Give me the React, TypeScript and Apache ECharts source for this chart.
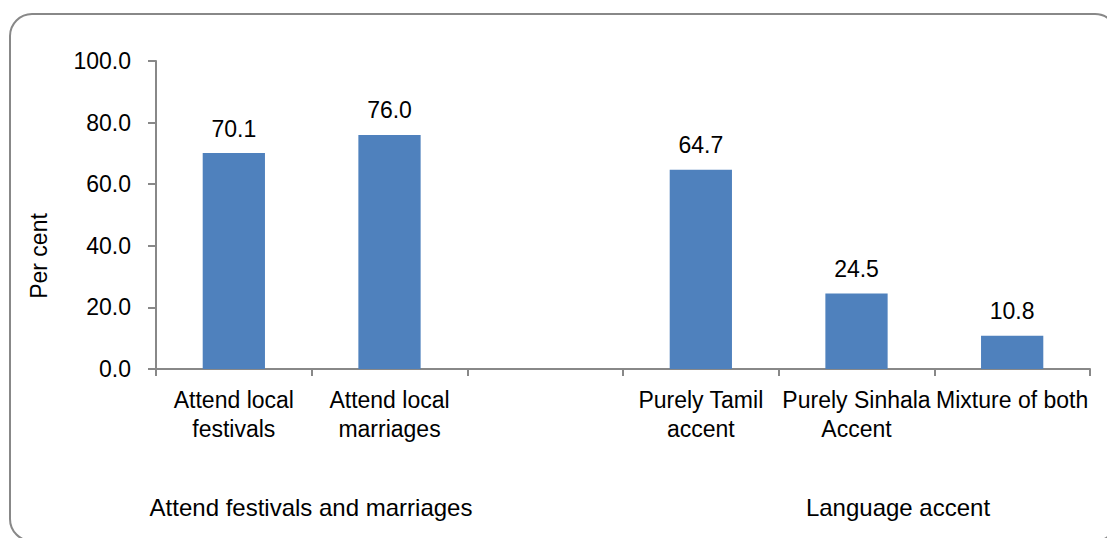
import React, { useEffect, useRef } from "react";
import * as echarts from "echarts";

const categories = [
  "Attend local\nfestivals",
  "Attend local\nmarriages",
  "",
  "Purely Tamil\naccent",
  "Purely Sinhala\nAccent",
  "Mixture of both",
];
const values: (number | null)[] = [70.1, 76.0, null, 64.7, 24.5, 10.8];
const groupLabels = ["Attend festivals and marriages", "Language accent"];
const yAxisName = "Per cent";

const FONT = "'Liberation Sans', Arial, sans-serif";

export default function App() {
  const ref = useRef<HTMLDivElement>(null);
  useEffect(() => {
    if (!ref.current) return;
    const chart = echarts.init(ref.current, undefined, { renderer: "svg" });
    chart.setOption({
      animation: false,
      textStyle: { fontFamily: FONT },
      grid: { left: 156, top: 61, right: 17, bottom: 169, containLabel: false },
      xAxis: {
        type: "category",
        data: categories,
        boundaryGap: true,
        axisLine: { lineStyle: { color: "#888888", width: 2 } },
        axisTick: { show: true, length: 7, alignWithLabel: false, lineStyle: { color: "#888888", width: 2 } },
        axisLabel: {
          interval: 0,
          color: "#000",
          fontSize: 23,
          lineHeight: 29,
          margin: 16,
          fontFamily: FONT,
        },
      },
      yAxis: {
        type: "value",
        min: 0,
        max: 100,
        interval: 20,
        splitLine: { show: false },
        axisLine: { show: true, lineStyle: { color: "#888888", width: 2 } },
        axisTick: { show: true, length: 8, lineStyle: { color: "#888888", width: 2 } },
        axisLabel: {
          color: "#000",
          fontSize: 23,
          margin: 25,
          fontFamily: FONT,
          formatter: (v: number) => v.toFixed(1),
        },
      },
      series: [
        {
          type: "bar",
          data: values,
          barWidth: "40%",
          itemStyle: { color: "#4F81BD" },
          label: {
            show: true,
            position: "top",
            distance: 13,
            color: "#000",
            fontSize: 23,
            fontFamily: FONT,
            formatter: (p: any) => (p.value == null ? "" : Number(p.value).toFixed(1)),
          },
        },
      ],
      graphic: [
        {
          type: "rect",
          x: 10,
          y: 14,
          shape: { width: 1107, height: 527, r: 22 },
          style: { fill: "none", stroke: "#888888", lineWidth: 2 },
          silent: true,
          z: -1,
        },
        {
          type: "text",
          x: 39,
          y: 256,
          rotation: Math.PI / 2,
          style: {
            text: yAxisName,
            fontSize: 23,
            fontFamily: FONT,
            fill: "#000",
            align: "center",
            verticalAlign: "middle",
          },
        },
        {
          type: "text",
          x: 311,
          y: 507,
          style: {
            text: groupLabels[0],
            fontSize: 24,
            fontFamily: FONT,
            fill: "#000",
            align: "center",
            verticalAlign: "middle",
          },
        },
        {
          type: "text",
          x: 898,
          y: 507,
          style: {
            text: groupLabels[1],
            fontSize: 24,
            fontFamily: FONT,
            fill: "#000",
            align: "center",
            verticalAlign: "middle",
          },
        },
      ],
    });
    return () => chart.dispose();
  }, []);
  return <div ref={ref} style={{ width: 1107, height: 538, position: "absolute", left: 0, top: 0 }} />;
}
